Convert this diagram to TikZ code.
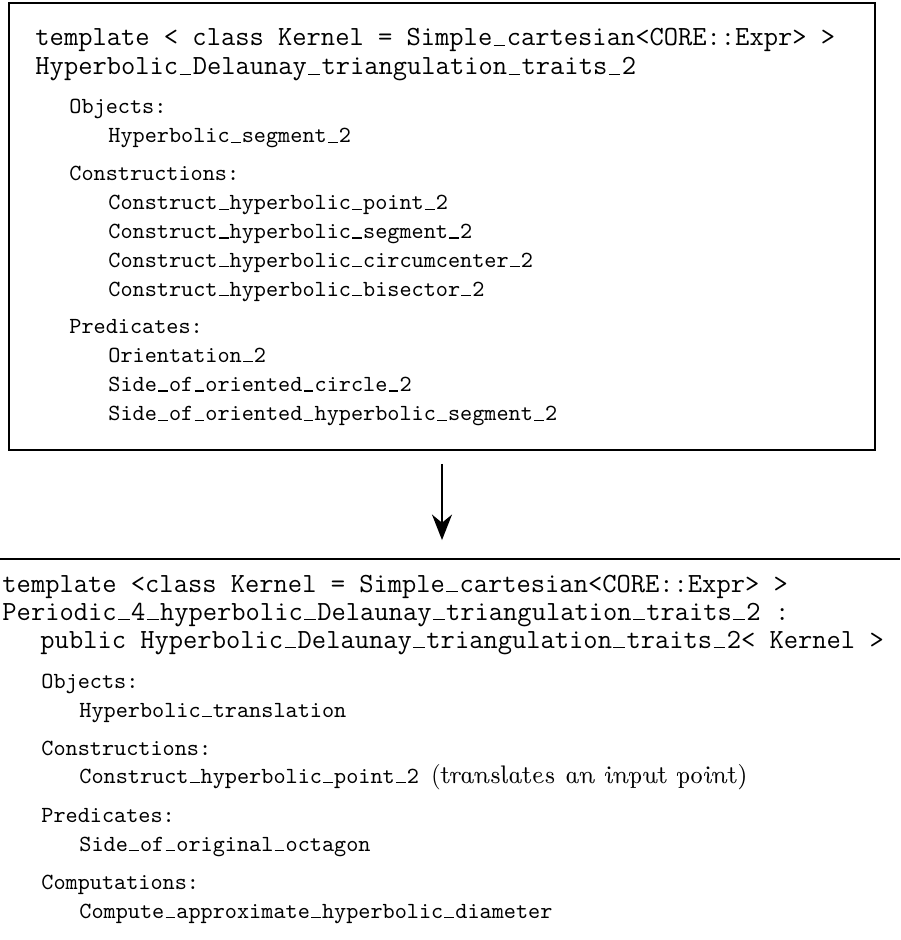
\documentclass[tikz,border=0pt]{standalone}
\usepackage{tikz}
\usetikzlibrary{arrows.meta}
\newcommand{\us}{\makebox[0.525em][c]{\rule{0.42em}{0.05em}}}

\begin{document}
\begin{tikzpicture}[x=0.4329pt,y=-0.4329pt,
    head/.style={anchor=base west,inner sep=0pt,font=\large\ttfamily},
    entry/.style={anchor=base west,inner sep=0pt,font=\ttfamily}]
      \useasboundingbox (0,0) rectangle (900,940);
      \node[draw,thick,inner sep=0pt,minimum width=374.9pt,minimum height=193.5pt] (traits) at (442,226.5) {};
      \node[head] (t1) at (35,46) {template < class Kernel = Simple\us cartesian<CORE::Expr> >};
      \node[head] (t2) at (35,75) {Hyperbolic\us Delaunay\us triangulation\us traits\us 2};
      \node[entry] (tobj) at (69,114) {Objects:};
      \node[entry] (tobj1) at (108,143) {Hyperbolic\us segment\us 2};
      \node[entry] (tcon) at (69,181) {Constructions:};
      \foreach \t [count=\i] in {Construct\us hyperbolic\us point\us 2,Construct\us hyperbolic\us segment\us 2,
          Construct\us hyperbolic\us circumcenter\us 2,Construct\us hyperbolic\us bisector\us 2}
        {\node[entry] (tcon\i) at (108,181+28.8*\i) {\t};}
      \node[entry] (tpre) at (69,333) {Predicates:};
      \foreach \t [count=\i] in {Orientation\us 2,Side\us of\us oriented\us circle\us 2,
          Side\us of\us oriented\us hyperbolic\us segment\us 2}
        {\node[entry] (tpre\i) at (108,333+29.3*\i) {\t};}

      \coordinate (p4w) at (0,559);
      \coordinate (p4e) at (900,559);
      \coordinate (p4) at (442,559);
      \draw[thick] (p4w) -- (p4e);
      \draw[very thick,-{Stealth[length=11pt,width=8.6pt,inset=3.5pt]}]
        ([yshift=-5.6pt]traits.south) -- ([yshift=8.2pt]p4);

      \node[head] (b1) at (2,592) {template <class Kernel = Simple\us cartesian<CORE::Expr> >};
      \node[head] (b2) at (2,620) {Periodic\us 4\us hyperbolic\us Delaunay\us triangulation\us traits\us 2 :};
      \node[head] (b3) at (40,648) {public Hyperbolic\us Delaunay\us triangulation\us traits\us 2< Kernel >};
      \node[entry] (bobj) at (41,688) {Objects:};
      \node[entry] (bobj1) at (79,717) {Hyperbolic\us translation};
      \node[entry] (bcon) at (41,755) {Constructions:};
      \node[entry] (bcon1) at (79,783) {Construct\us hyperbolic\us point\us 2
        {\fontsize{11}{13}\rmfamily(\fontshape{ui}\selectfont translates an input point)}};
      \node[entry] (bpre) at (41,822) {Predicates:};
      \node[entry] (bpre1) at (79,851) {Side\us of\us original\us octagon};
      \node[entry] (bcmp) at (41,889) {Computations:};
      \node[entry] (bcmp1) at (79,918) {Compute\us approximate\us hyperbolic\us diameter};
    \end{tikzpicture}
\end{document}
